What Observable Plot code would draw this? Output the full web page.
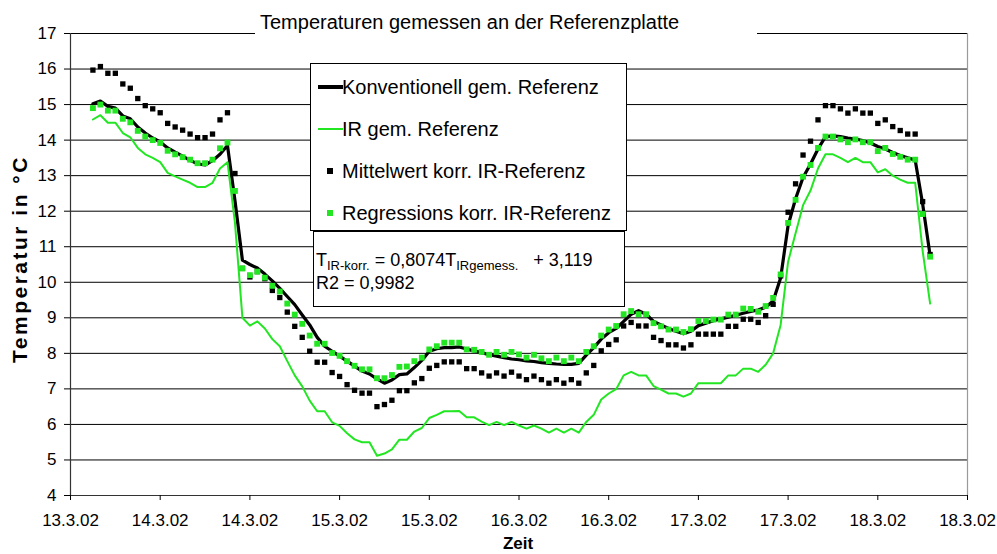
<!DOCTYPE html>
<html><head><meta charset="utf-8">
<script src="https://cdn.jsdelivr.net/npm/d3@7"></script>
<script src="https://cdn.jsdelivr.net/npm/@observablehq/plot@0.6"></script>
<style>
body{margin:0;background:#fff;font-family:"Liberation Sans",Arial,sans-serif;color:#000;}
#wrap{position:relative;width:997px;height:554px;overflow:hidden;}
.abs{position:absolute;white-space:nowrap;}
.box{position:absolute;background:#fff;border:1px solid #000;box-sizing:border-box;}
sub{font-size:13px;vertical-align:-4px;line-height:0;}
</style></head><body>
<div id="wrap"></div>
<script>
// hourly readings, first reading 3 h after the first axis tick
const startHour = 3;
const konventionell = [
15.02,15.1,14.95,14.9,14.68,14.6,14.37,14.2,14.06,13.95,
13.78,13.66,13.55,13.43,13.33,13.3,13.42,13.6,13.85,12.3,
10.62,10.5,10.4,10.23,10.04,9.83,9.6,9.37,9.08,8.8,
8.45,8.2,8.06,7.92,7.78,7.64,7.5,7.42,7.28,7.16,
7.25,7.4,7.42,7.6,7.8,8.06,8.13,8.16,8.16,8.18,
8.12,8.07,8.02,7.96,7.92,7.88,7.84,7.82,7.79,7.77,
7.74,7.72,7.7,7.69,7.69,7.72,7.95,8.16,8.4,8.58,
8.7,8.9,9.1,9.2,9.1,8.9,8.8,8.7,8.62,8.55,
8.62,8.78,8.85,8.92,8.97,9.02,9.07,9.13,9.18,9.22,
9.3,9.47,10.12,11.6,12.35,12.95,13.33,13.75,14.1,14.12,
14.1,14.06,14.03,13.99,13.92,13.82,13.75,13.65,13.57,13.5,
13.44,12.2,10.75];
const irGemessen = [
14.58,14.7,14.49,14.49,14.2,14.08,13.78,13.6,13.5,13.38,
13.08,12.98,12.89,12.8,12.68,12.68,12.8,13.2,13.38,11.68,
9.0,8.78,8.9,8.7,8.4,8.2,7.78,7.38,7.07,6.67,
6.37,6.37,6.06,5.96,5.75,5.58,5.5,5.5,5.12,5.18,
5.3,5.57,5.57,5.8,5.9,6.18,6.27,6.37,6.37,6.38,
6.2,6.2,6.08,5.98,6.07,5.98,6.07,5.97,5.88,5.97,
5.88,5.77,5.88,5.77,5.88,5.77,6.07,6.27,6.7,6.87,
6.99,7.38,7.48,7.38,7.38,7.08,6.98,6.87,6.87,6.78,
6.87,7.16,7.16,7.16,7.16,7.38,7.38,7.57,7.57,7.48,
7.68,8.0,8.8,10.58,11.38,12.17,12.58,13.2,13.6,13.6,
13.5,13.38,13.5,13.38,13.38,13.09,13.18,13.0,12.89,12.8,
12.8,10.88,9.4];
const mittelwertKorr = [
15.97,16.07,15.88,15.88,15.58,15.46,15.17,14.97,14.88,14.77,
14.47,14.37,14.28,14.17,14.07,14.07,14.17,14.57,14.77,13.06,
10.39,10.15,10.3,10.1,9.77,9.57,9.16,8.76,8.45,8.06,
7.75,7.75,7.46,7.35,7.12,6.96,6.88,6.88,6.5,6.56,
6.68,6.95,6.95,7.17,7.29,7.58,7.66,7.76,7.76,7.76,
7.57,7.57,7.45,7.36,7.45,7.36,7.47,7.36,7.26,7.36,
7.26,7.16,7.26,7.16,7.26,7.16,7.45,7.66,8.07,8.25,
8.38,8.77,8.87,8.77,8.77,8.45,8.36,8.24,8.24,8.15,
8.24,8.54,8.54,8.54,8.54,8.76,8.76,8.96,8.96,8.87,
9.06,9.38,10.18,11.97,12.77,13.58,13.97,14.57,14.97,14.97,
14.88,14.76,14.88,14.76,14.76,14.47,14.57,14.38,14.27,14.17,
14.17,12.27,10.78];
const regressionKorr = [
14.9,15.0,14.83,14.83,14.6,14.5,14.26,14.1,14.0,13.92,
13.7,13.6,13.52,13.45,13.35,13.35,13.45,13.77,13.93,12.57,
10.39,10.2,10.3,10.13,9.9,9.74,9.4,9.09,8.83,8.5,
8.27,8.27,8.01,7.93,7.78,7.65,7.55,7.55,7.3,7.3,
7.39,7.62,7.63,7.78,7.88,8.11,8.2,8.3,8.3,8.3,
8.11,8.1,8.04,7.96,8.04,7.96,8.04,7.97,7.88,7.96,
7.86,7.78,7.88,7.78,7.88,7.78,8.04,8.2,8.5,8.67,
8.77,9.1,9.19,9.1,9.1,8.85,8.76,8.67,8.67,8.6,
8.68,8.91,8.91,8.95,8.95,9.09,9.09,9.26,9.25,9.17,
9.33,9.56,10.22,11.67,12.32,12.97,13.3,13.78,14.1,14.1,
14.02,13.94,14.02,13.94,13.94,13.69,13.78,13.61,13.53,13.45,
13.45,11.92,10.72];

const tickHours = [0,12,24,36,48,60,72,84,96,108,120];
const tickLabels = ["13.3.02","14.3.02","14.3.02","15.3.02","15.3.02","16.3.02","16.3.02","17.3.02","17.3.02","18.3.02","18.3.02"];
const yTicks = [4,5,6,7,8,9,10,11,12,13,14,15,16,17];
const seriesNames = ["Konventionell gem. Referenz","IR gem. Referenz","Mittelwert korr. IR-Referenz","Regressions korr. IR-Referenz"];
const titleText = "Temperaturen gemessen an der Referenzplatte";
const xTitle = "Zeit";
const yTitle = "Temperatur in °C";

const GREEN = "#22e622";
const rows = konventionell.map((v, i) => ({
  h: startHour + i, konv: v, ir: irGemessen[i], mw: mittelwertKorr[i], reg: regressionKorr[i]
}));
const labelOf = new Map(tickHours.map((h, i) => [h, tickLabels[i]]));

const chart = Plot.plot({
  width: 997, height: 554,
  marginLeft: 70, marginRight: 30, marginTop: 33, marginBottom: 59,
  style: {fontFamily: "'Liberation Sans', Arial, sans-serif", fontSize: "17px", color: "#000", background: "#fff", overflow: "visible"},
  x: {domain: [0, 120]},
  y: {domain: [4, 17]},
  marks: [
    Plot.ruleY(yTicks.filter(d => d > 4), {stroke: "#000", strokeWidth: 1}),
    Plot.ruleX([120], {stroke: "#9a9a9a", strokeWidth: 1.2}),
    Plot.line(rows, {x: "h", y: "konv", stroke: "#000", strokeWidth: 3.2}),
    Plot.line(rows, {x: "h", y: "ir", stroke: GREEN, strokeWidth: 2}),
    Plot.dot(rows, {x: "h", y: "mw", symbol: "square", fill: "#000", r: 3}),
    Plot.dot(rows, {x: "h", y: "reg", symbol: "square", fill: GREEN, r: 3.3}),
    Plot.ruleX([0], {stroke: "#333", strokeWidth: 1.2}),
    Plot.ruleY([4], {stroke: "#333", strokeWidth: 1.2}),
    Plot.axisY(yTicks, {tickSize: 6, tickPadding: 8, label: null, fontSize: 17}),
    Plot.axisX(tickHours, {tickSize: 5, tickPadding: 13, label: null, fontSize: 17, tickFormat: d => labelOf.get(d)})
  ]
});
const wrap = document.getElementById("wrap");
wrap.appendChild(chart);

function add(html, css, cls) {
  const d = document.createElement("div");
  d.className = cls || "abs";
  d.style.cssText = css;
  d.innerHTML = html;
  wrap.appendChild(d);
  return d;
}
// title over the top border
add("", "left:255px;top:14px;width:502px;height:30px;background:#fff;");
add(titleText, "left:260px;top:11px;font-size:20px;");
// axis titles
add(xTitle, "left:0;width:1036px;text-align:center;top:534px;font-size:17px;font-weight:bold;");
add(yTitle, "left:20px;top:259px;font-size:21px;letter-spacing:2.5px;font-weight:bold;transform:translate(-50%,-50%) rotate(-90deg);");

// legend
const lg = add("", "left:310px;top:63px;width:317px;height:168px;", "box");
const rowY = [23, 65, 107, 149];
seriesNames.forEach((name, i) => {
  let key;
  if (i === 0) key = `<div class="abs" style="left:7px;top:${rowY[i]-1.6}px;width:25px;height:3.2px;background:#000"></div>`;
  else if (i === 1) key = `<div class="abs" style="left:7px;top:${rowY[i]-1}px;width:25px;height:2px;background:${GREEN}"></div>`;
  else key = `<div class="abs" style="left:16px;top:${rowY[i]-3}px;width:6px;height:6px;background:${i === 2 ? "#000" : GREEN}"></div>`;
  lg.insertAdjacentHTML("beforeend", key + `<div class="abs" style="left:31px;top:${rowY[i]-12}px;font-size:20px;line-height:24px">${name}</div>`);
});

// regression equation box
const eq = add("", "left:313px;top:231px;width:312px;height:76px;", "box");
eq.insertAdjacentHTML("beforeend",
  `<div class="abs" style="left:2px;top:17px;font-size:18px;line-height:23px">T<sub>IR-korr.</sub> = 0,8074T<sub>IRgemess.</sub>&nbsp;&nbsp; + 3,119<br>R2 = 0,9982</div>`);
</script>
</body></html>
